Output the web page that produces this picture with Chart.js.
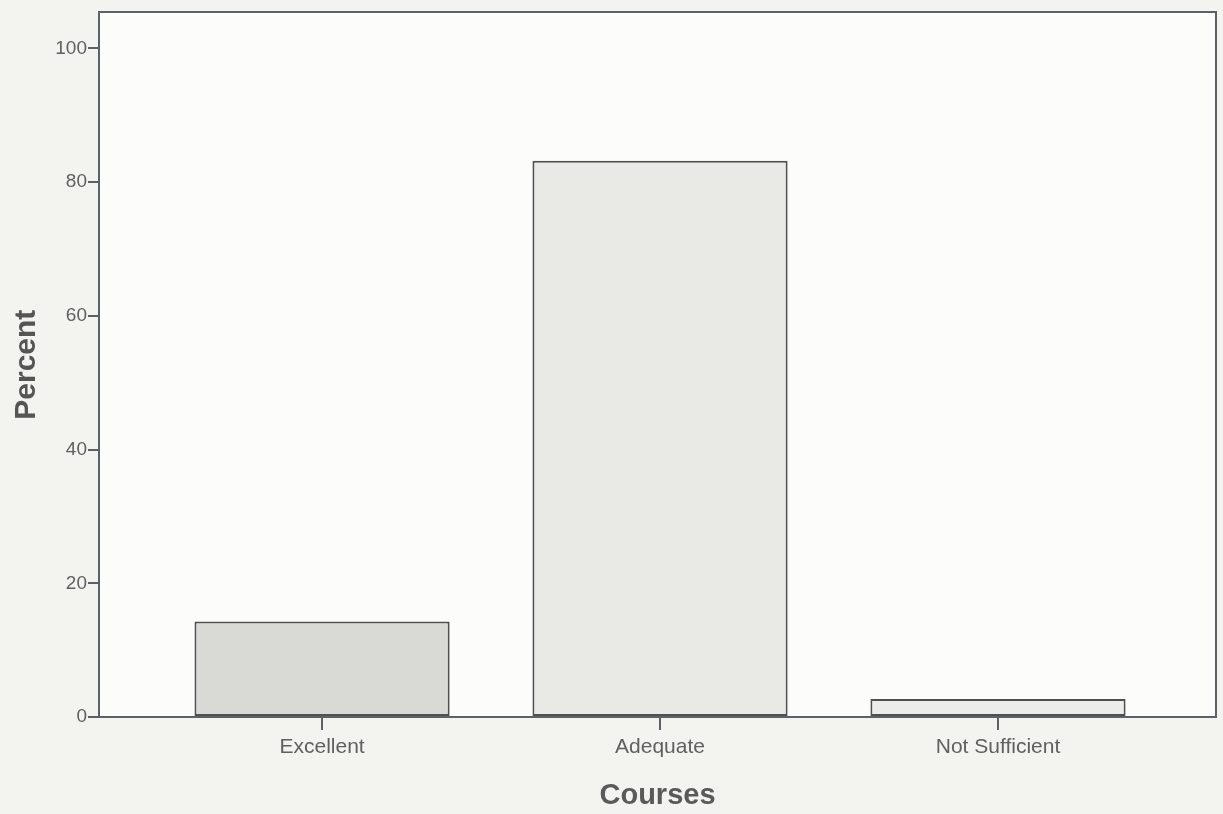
<!DOCTYPE html>
<html>
<head>
<meta charset="utf-8">
<script src="https://cdn.jsdelivr.net/npm/chart.js@4"></script>
<style>
  html, body { margin: 0; padding: 0; background: #f2f2ee; }
  #wrap { width: 1223px; height: 814px; }
</style>
</head>
<body>
<div id="wrap"><canvas id="c" width="1223" height="814"></canvas></div>
<script>
const categories = ["Excellent", "Adequate", "Not Sufficient"];
const percentValues = [14.3, 83.2, 2.7];
const barFills = ["#d9d9d5", "#e9e9e5", "#ececea"];
const yTickValues = [0, 20, 40, 60, 80, 100];
const xAxisTitle = "Courses";
const yAxisTitle = "Percent";

const axisColor = "#5c6068";
const textColor = "#606060";

const bgPlugin = {
  id: "bg",
  beforeDraw(chart) {
    const { ctx, chartArea: a } = chart;
    ctx.save();
    ctx.fillStyle = "#f3f3ef";
    ctx.fillRect(0, 0, chart.width, chart.height);
    ctx.fillStyle = "#fcfcfa";
    ctx.fillRect(a.left, a.top, a.right - a.left, a.bottom - a.top);
    ctx.restore();
  }
};

new Chart(document.getElementById("c"), {
  type: "bar",
  data: {
    datasets: [{
      data: percentValues.map((v, i) => ({ x: i, y: v })),
      backgroundColor: barFills,
      borderColor: "#505050",
      borderWidth: 2,
      borderSkipped: false,
      barPercentage: 0.755,
      categoryPercentage: 1.0
    }]
  },
  options: {
    responsive: false,
    animation: false,
    devicePixelRatio: 1,
    layout: { padding: 0 },
    plugins: { legend: { display: false }, tooltip: { enabled: false } },
    scales: {
      x: {
        type: "linear",
        position: "bottom",
        offset: false,
        min: -0.66,
        max: 2.645,
        afterFit(s) { s.height = 97; },
        afterBuildTicks(s) { s.ticks = categories.map((c, i) => ({ value: i })); },
        grid: { offset: false, drawOnChartArea: false, drawTicks: true, tickLength: 13, color: axisColor, lineWidth: 2 },
        border: { display: true, color: axisColor, width: 2 },
        ticks: {
          callback: (v) => categories[v] ?? "",
          color: textColor,
          font: { family: "'Liberation Sans', Arial, sans-serif", size: 21 },
          padding: 5,
          maxRotation: 0,
          autoSkip: false
        },
        title: {
          display: true,
          text: xAxisTitle,
          color: "#5a5a5a",
          font: { family: "'Liberation Sans', Arial, sans-serif", size: 29, weight: "bold" },
          padding: { top: 0, bottom: 1 }
        }
      },
      x2: {
        type: "linear",
        position: "top",
        display: true,
        afterFit(s) { s.height = 7; },
        grid: { drawOnChartArea: false, drawTicks: false },
        border: { display: true, color: axisColor, width: 2 },
        ticks: { display: false }
      },
      y: {
        type: "linear",
        position: "left",
        min: 0,
        max: 105.4,
        afterFit(s) { s.width = 99; },
        afterBuildTicks(s) { s.ticks = yTickValues.map(v => ({ value: v })); },
        grid: { drawOnChartArea: false, drawTicks: true, tickLength: 11, color: axisColor, lineWidth: 2 },
        border: { display: true, color: axisColor, width: 2 },
        ticks: {
          color: textColor,
          font: { family: "'Liberation Sans', Arial, sans-serif", size: 19 },
          padding: 1
        },
        title: {
          display: true,
          text: yAxisTitle,
          color: "#555555",
          font: { family: "'Liberation Sans', Arial, sans-serif", size: 30, weight: "bold" },
          padding: { top: 9, bottom: 0 }
        }
      },
      y2: {
        type: "linear",
        position: "right",
        display: true,
        afterFit(s) { s.width = 7; },
        grid: { drawOnChartArea: false, drawTicks: false },
        border: { display: true, color: axisColor, width: 2 },
        ticks: { display: false }
      }
    }
  },
  plugins: [bgPlugin]
});
</script>
</body>
</html>
